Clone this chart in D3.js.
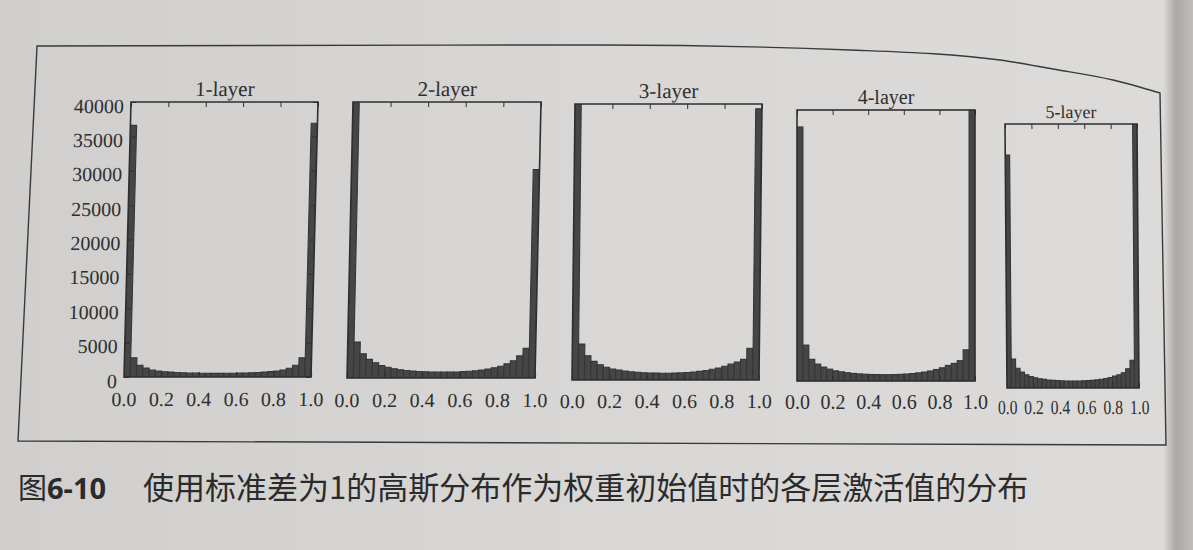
<!DOCTYPE html>
<html>
<head>
<meta charset="utf-8">
<script src="https://cdn.jsdelivr.net/npm/d3@7"></script>
<style>
  html, body { margin: 0; padding: 0; background: #d6d5d3; }
  svg { display: block; }
</style>
</head>
<body>
<svg id="chart" width="1193" height="550"></svg>
<script>
// ---- data ----
const layerNames = ["1-layer", "2-layer", "3-layer", "4-layer", "5-layer"];
const binCount = 30;
const counts1 = [36600, 2800, 1700, 1300, 1000, 880, 770, 710, 660, 610, 580, 560, 540, 540, 530,
                 530, 540, 540, 560, 580, 610, 660, 710, 780, 880, 1020, 1280, 1700, 2800, 36900];
const counts2 = [40600, 5200, 3500, 2700, 2200, 1800, 1550, 1350, 1200, 1080, 1000, 940, 900, 870, 850,
                 850, 860, 880, 920, 980, 1060, 1150, 1300, 1480, 1700, 2050, 2500, 3200, 4300, 30200];
const counts3 = [40200, 5200, 3500, 2700, 2200, 1850, 1600, 1450, 1300, 1200, 1120, 1060, 1020, 1000, 980,
                 980, 1000, 1030, 1080, 1150, 1250, 1380, 1550, 1750, 2000, 2300, 2600, 3000, 4600, 39300];
const counts4 = [37500, 5300, 3200, 2500, 2050, 1750, 1500, 1350, 1220, 1120, 1050, 1000, 960, 940, 930,
                 930, 950, 980, 1030, 1100, 1200, 1320, 1480, 1700, 1950, 2300, 2600, 3000, 4600, 40300];
const counts5 = [35300, 4400, 3000, 2400, 2000, 1750, 1550, 1400, 1300, 1220, 1160, 1110, 1080, 1060, 1050,
                 1050, 1060, 1080, 1110, 1160, 1230, 1320, 1450, 1600, 1800, 2000, 2300, 2900, 4200, 40200];
const xTickValues = [0.0, 0.2, 0.4, 0.6, 0.8, 1.0];
const yTickValues = [0, 5000, 10000, 15000, 20000, 25000, 30000, 35000, 40000];
const yMax = 40000;
const captionLabel = "图";
const captionNumber = "6-10";
const captionText = "使用标准差为1的高斯分布作为权重初始值时的各层激活值的分布";

// ---- layout (position of each subplot on the photographed page) ----
// x0/x1: bottom edge; shear: how far the top edge sits to the right of the bottom edge
const panels = [
  { x0: 124, x1: 311, top: 102, bottom: 377, shear: 7, labelScale: 1, labelPad: 15, titleSize: 21 },
  { x0: 347, x1: 535, top: 102, bottom: 378, shear: 6, labelScale: 1, labelPad: 15, titleSize: 21 },
  { x0: 572, x1: 759, top: 104, bottom: 380, shear: 3, labelScale: 1, labelPad: 14, titleSize: 21 },
  { x0: 797, x1: 975, top: 110, bottom: 381, shear: 0, labelScale: 1, labelPad: 14, titleSize: 20 },
  { x0: 1007, x1: 1139, top: 124, bottom: 388, shear: -2, labelScale: 0.78, labelPad: 12, titleSize: 18 }
];
const allCounts = [counts1, counts2, counts3, counts4, counts5];

const svg = d3.select("#chart");
const serif = "'Liberation Serif', 'DejaVu Serif', serif";
const ink = "#2f2f2f";
const barFill = "#464646";

// paper background with slight lighting gradient
const defs = svg.append("defs");
const grad = defs.append("linearGradient").attr("id", "paper").attr("x1", 0).attr("x2", 1).attr("y1", 0).attr("y2", 0);
grad.append("stop").attr("offset", "0%").attr("stop-color", "#d0cfcd");
grad.append("stop").attr("offset", "50%").attr("stop-color", "#d8d7d5");
grad.append("stop").attr("offset", "97.5%").attr("stop-color", "#dcdbd9");
grad.append("stop").attr("offset", "98.6%").attr("stop-color", "#a9a8a6");
grad.append("stop").attr("offset", "100%").attr("stop-color", "#bfbebc");
svg.append("rect").attr("width", 1193).attr("height", 550).attr("fill", "url(#paper)");

// outer figure frame (curved page)
const framePts = [[37, 46], [600, 45], [850, 50], [1000, 60], [1053, 69], [1113, 80], [1160, 93]];
svg.append("path")
  .attr("d", d3.line().curve(d3.curveMonotoneX)(framePts) + " L1166,445 L18,441 Z")
  .attr("fill", "none").attr("stroke", "#3a3a3a").attr("stroke-width", 1.4);

panels.forEach((p, k) => {
  const counts = allCounts[k];
  const h = p.bottom - p.top;
  const skewDeg = Math.atan(-p.shear / h) * 180 / Math.PI;
  const x = d3.scaleLinear().domain([0, 1]).range([p.x0, p.x1]);
  const y = d3.scaleLinear().domain([0, yMax]).range([p.bottom, p.top]);
  const g = svg.append("g")
    .attr("transform", `translate(0,${p.bottom}) skewX(${skewDeg}) translate(0,${-p.bottom})`);

  defs.append("clipPath").attr("id", "clip" + k)
    .append("rect").attr("x", p.x0).attr("y", p.top).attr("width", p.x1 - p.x0).attr("height", h);

  // bars
  g.append("g").attr("clip-path", `url(#clip${k})`)
    .selectAll("rect").data(counts).join("rect")
    .attr("x", (d, i) => x(i / binCount))
    .attr("width", (d, i) => x((i + 1) / binCount) - x(i / binCount))
    .attr("y", d => y(Math.min(d, yMax)))
    .attr("height", d => p.bottom - y(Math.min(d, yMax)))
    .attr("fill", barFill)
    .attr("stroke", "#363636")
    .attr("stroke-width", 1.1);

  // inward ticks (top & bottom)
  const tickLen = 5;
  const xAxisTop = d3.axisTop(x).tickValues(xTickValues).tickSize(-tickLen).tickFormat("");
  const xAxisBottom = d3.axisBottom(x).tickValues(xTickValues).tickSize(-tickLen)
    .tickFormat(d3.format(".1f")).tickPadding(p.labelPad);
  const gt = g.append("g").attr("transform", `translate(0,${p.top})`).call(xAxisTop);
  const gb = g.append("g").attr("transform", `translate(0,${p.bottom})`).call(xAxisBottom);
  [gt, gb].forEach(a => {
    a.select(".domain").remove();
    a.selectAll("line").attr("stroke", ink).attr("stroke-width", 1);
  });
  gb.selectAll("text")
    .attr("font-family", serif).attr("font-size", 20).attr("fill", ink)
    .attr("transform", p.labelScale === 1 ? null : `scale(${p.labelScale},1)`);

  if (k === 0) {
    const yAxisL = d3.axisLeft(y).tickValues(yTickValues).tickSize(-tickLen)
      .tickFormat(d3.format("d")).tickPadding(7);
    const yAxisR = d3.axisRight(y).tickValues(yTickValues).tickSize(-tickLen).tickFormat("");
    const gl = g.append("g").attr("transform", `translate(${p.x0},0)`).call(yAxisL);
    const gr = g.append("g").attr("transform", `translate(${p.x1},0)`).call(yAxisR);
    [gl, gr].forEach(a => {
      a.select(".domain").remove();
      a.selectAll("line").attr("stroke", ink);
    });
    gl.selectAll("text")
      .attr("font-family", serif).attr("font-size", 20).attr("fill", ink)
      .attr("dy", "0.5em");
  }

  // frame of the subplot
  g.append("rect")
    .attr("x", p.x0).attr("y", p.top)
    .attr("width", p.x1 - p.x0).attr("height", h)
    .attr("fill", "none").attr("stroke", ink).attr("stroke-width", 1.6);

  // title
  g.append("text")
    .attr("x", (p.x0 + p.x1) / 2).attr("y", p.top - 6)
    .attr("text-anchor", "middle")
    .attr("font-family", serif).attr("font-size", p.titleSize)
    .attr("fill", ink)
    .text(layerNames[k]);
});

// caption
const cap = svg.append("text")
  .attr("x", 18).attr("y", 499)
  .attr("font-family", "'Noto Sans CJK SC', sans-serif")
  .attr("font-size", 29).attr("fill", "#2b2b2b");
cap.append("tspan").text(captionLabel);
cap.append("tspan").attr("font-weight", "bold").attr("font-family", "'Noto Sans', sans-serif").text(captionNumber);
svg.append("text")
  .attr("x", 143).attr("y", 499)
  .attr("font-family", "'Noto Sans CJK SC', sans-serif")
  .attr("font-size", 31).attr("fill", "#2b2b2b")
  .text(captionText);
</script>
</body>
</html>
